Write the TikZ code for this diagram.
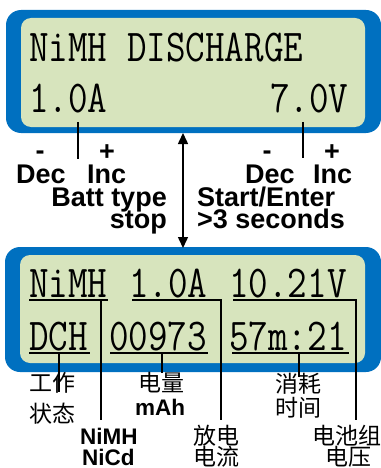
\documentclass[tikz,border=0pt]{standalone}
\usepackage{fontspec}
\usepackage{graphicx}
\usetikzlibrary{arrows.meta,positioning}
\newfontfamily\labfont{Liberation Sans}
\newfontfamily\cjkfont{Noto Sans CJK SC}
\definecolor{scrblue}{HTML}{0070C0}
\definecolor{scrgreen}{HTML}{D7E4BD}
\newcommand{\lcdtext}[1]{\scalebox{1}[1.2]{#1}}
\tikzset{
  lcd/.style     = {anchor=base west, inner sep=0pt,
                    font=\ttfamily\fontsize{38}{38}\selectfont},
  keylab/.style  = {anchor=base west, inner sep=0pt,
                    font=\labfont\bfseries\fontsize{27}{27}\selectfont},
  keylabr/.style = {keylab, anchor=base east},
  signlab/.style = {keylab, anchor=base},
  cjklab/.style  = {anchor=base west, inner sep=0pt,
                    font=\cjkfont\fontsize{23}{23}\selectfont},
  latlab/.style  = {anchor=base west, inner sep=0pt,
                    font=\labfont\bfseries\fontsize{22.5}{22.5}\selectfont},
  lead/.style    = {draw=black, line width=1.2pt},
  uline/.style   = {draw=black, line width=1.2pt},
  dbl/.style     = {{Triangle[length=11pt,width=10pt]}-{Triangle[length=11pt,width=10pt]},
                    line width=1.5pt},
}
\begin{document}
\begin{tikzpicture}[x=1pt,y=-1pt]
  \useasboundingbox (0,0) rectangle (380,468);
  % screens
  \fill[scrblue, rounded corners=15pt] (6,10) rectangle (381,133);
  \fill[scrgreen, rounded corners=10pt] (21,18) rectangle (365,127);
  \fill[scrblue, rounded corners=15pt] (5,247) rectangle (381,372);
  \fill[scrgreen, rounded corners=10pt] (20,255) rectangle (365,363);

  % top screen
  \node[lcd] (mode) at (29,62) {\lcdtext{NiMH DISCHARGE}};
  \node[lcd] (setcur) at (29,113) {\lcdtext{1.0A}};
  \node[lcd] (setvolt) at (270,113) {\lcdtext{7.0V}};
  \coordinate (curtop) at (78,122);
  \coordinate (curbot) at (78,159);
  \coordinate (volttop) at (303,122);
  \coordinate (voltbot) at (303,158);
  \draw[lead] (curtop) -- (curbot);
  \draw[lead] (volttop) -- (voltbot);

  % key labels
  \node[signlab] (minA) at (40,159) {-};
  \node[signlab] (plusA) at (107,160) {+};
  \node[keylab] (decA) at (16,183) {Dec};
  \node[keylab] (incA) at (87,183) {Inc};
  \node[keylabr] (batt) at (167,206) {Batt type};
  \node[keylabr] (stop) at (167,228) {stop};
  \node[signlab] (minB) at (267,159) {-};
  \node[signlab] (plusB) at (332,160) {+};
  \node[keylab] (decB) at (245,183) {Dec};
  \node[keylab] (incB) at (313,183) {Inc};
  \node[keylab] (start) at (197,206) {Start/Enter};
  \node[keylab] (hold) at (197,228) {>3 seconds};

  \coordinate (swtop) at (183,133);
  \coordinate (swbot) at (183,248);
  \draw[dbl] (swtop) -- (swbot);

  % bottom screen
  \node[lcd] (bat) at (29,297) {\lcdtext{NiMH}};
  \node[lcd] (cur) at (129,297) {\lcdtext{1.0A}};
  \node[lcd] (volt) at (229,297) {\lcdtext{10.21V}};
  \node[lcd] (state) at (29,350) {\lcdtext{DCH}};
  \node[lcd] (cap) at (109,350) {\lcdtext{00973}};
  \node[lcd] (time) at (229,350) {\lcdtext{57m:21}};

  \coordinate (batL) at (29,300);   \coordinate (batR) at (108,300);
  \coordinate (curL) at (132,300);  \coordinate (curR) at (222,300);
  \coordinate (voltL) at (233,300); \coordinate (voltR) at (357,300);
  \coordinate (stL) at (29,353);    \coordinate (stR) at (90,353);
  \coordinate (capL) at (110,353);  \coordinate (capR) at (208,353);
  \coordinate (timeL) at (232,353); \coordinate (timeR) at (349,353);
  \foreach \u in {bat,cur,volt,st,cap,time}
    \draw[uline] (\u L) -- (\u R);

  \coordinate (batA) at (101,300);  \coordinate (batB) at (101,420);
  \coordinate (curA) at (221,300);  \coordinate (curB) at (221,420);
  \coordinate (voltA) at (356,300); \coordinate (voltB) at (356,420);
  \coordinate (stA) at (59,353);    \coordinate (stB) at (59,392);
  \coordinate (capA) at (162,353);  \coordinate (capB) at (162,373);
  \coordinate (timeA) at (299,353); \coordinate (timeB) at (299,377);
  \foreach \u in {bat,cur,volt,st,cap,time}
    \draw[lead] (\u A) -- (\u B);

  % notes
  \node[cjklab] (work) at (29,391) {工作};
  \node[cjklab] (stat) at (29,422) {状态};
  \node[cjklab] (qty) at (138,391) {电量};
  \node[latlab] (mah) at (135,415) {mAh};
  \node[latlab] (nimh) at (80,444) {NiMH};
  \node[latlab] (nicd) at (82,465) {NiCd};
  \node[cjklab] (dis) at (193,444) {放电};
  \node[cjklab] (flow) at (193,465) {电流};
  \node[cjklab] (used) at (275,392) {消耗};
  \node[cjklab] (tim) at (275,416) {时间};
  \node[cjklab] (pack) at (312,444) {电池组};
  \node[cjklab] (pres) at (325,465) {电压};
\end{tikzpicture}
\end{document}
